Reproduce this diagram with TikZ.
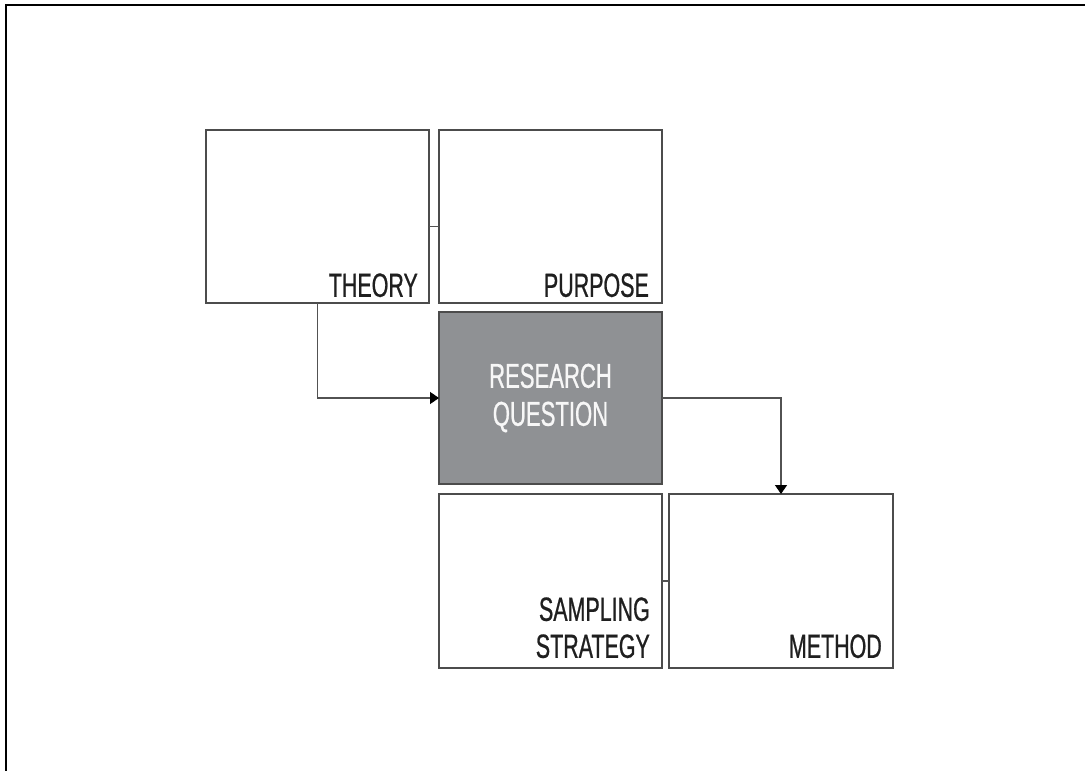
\documentclass[tikz,border=0pt]{standalone}
\usepackage{fontspec}
\setmainfont[FakeStretch=0.64,FakeBold=0.7]{Liberation Sans}
\usetikzlibrary{arrows.meta}
\begin{document}
\begin{tikzpicture}[x=1pt,y=-1pt,
  box/.style={draw=black!70, line width=1.4pt, fill=white, minimum width=223pt,
    minimum height=173pt, anchor=north west, inner sep=0pt, outer sep=0pt},
  keybox/.style={box, fill=rqgray},
  lbl/.style={font=\fontsize{33.5}{37}\selectfont, text=black!88, inner sep=0pt,
    align=right, anchor=south east, text depth=0pt},
  link/.style={draw=black!68, line width=1.4pt},
  arr/.style={link, -{Triangle[length=9pt,width=12pt,color=black]}}]
  \definecolor{rqgray}{HTML}{8F9194}
  \useasboundingbox (0,0) rectangle (1085,771);
  % page frame
  \draw[line width=2.2pt, black] (6,771) -- (6,5) -- (1085,5);

  % boxes
  \node[box] (theory) at (206,130) {};
  \node[box] (purpose) at (439,130) {};
  \node[keybox, minimum height=172pt, align=center, text=white!97!black,
        font=\fontsize{34.5}{38}\selectfont] (rq) at (439,312) {RESEARCH\\QUESTION};
  \node[box, minimum height=174pt] (sampling) at (439,494) {};
  \node[box, minimum height=174pt, minimum width=224pt] (method) at (669,494) {};

  % labels
  \node[lbl] (theoryL) at ([xshift=-11pt,yshift=6pt]theory.south east) {THEORY};
  \node[lbl] (purposeL) at ([xshift=-13pt,yshift=6pt]purpose.south east) {PURPOSE};
  \node[lbl] (samplingL) at ([xshift=-12pt,yshift=10pt]sampling.south east) {SAMPLING\\STRATEGY};
  \node[lbl] (methodL) at ([xshift=-11pt,yshift=10pt]method.south east) {METHOD};

  % connectors
  \draw[link] ([yshift=-10pt]theory.east) -- ([yshift=-10pt]purpose.west);
  \draw[link] (sampling.east) -- (method.west);
  \draw[arr] (theory.south) |- (rq.west);
  \draw[arr] (rq.east) -| (method.north);
\end{tikzpicture}
\end{document}
